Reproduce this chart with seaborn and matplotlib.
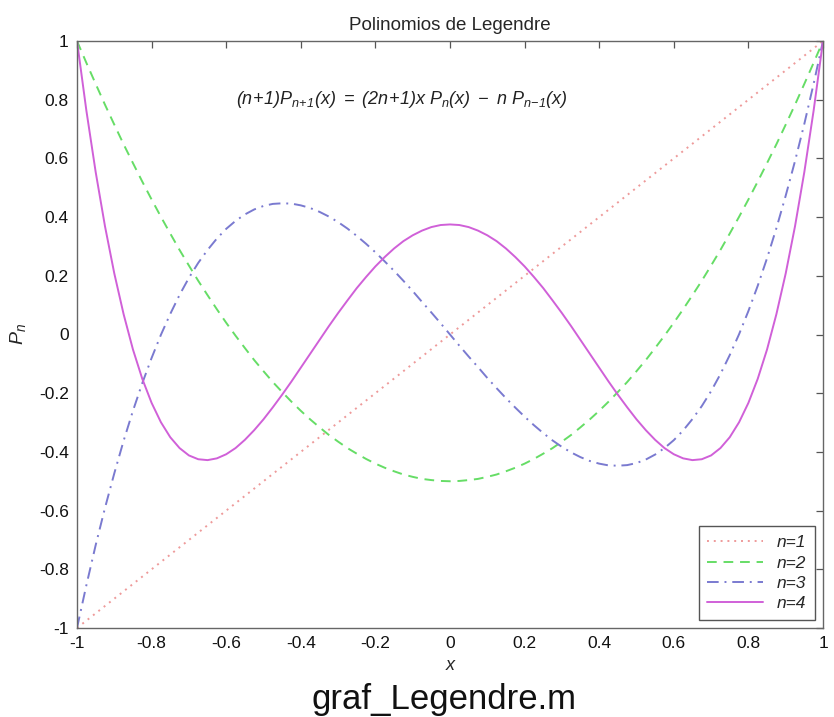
import matplotlib
matplotlib.use("Agg")
import matplotlib.pyplot as plt
import seaborn as sns
import pandas as pd

# ---- data ----
x_vals = [-1.0, -0.975, -0.95, -0.925, -0.9, -0.875, -0.85, -0.825, -0.8, -0.775,
          -0.75, -0.725, -0.7, -0.675, -0.65, -0.625, -0.6, -0.575, -0.55, -0.525,
          -0.5, -0.475, -0.45, -0.425, -0.4, -0.375, -0.35, -0.325, -0.3, -0.275,
          -0.25, -0.225, -0.2, -0.175, -0.15, -0.125, -0.1, -0.075, -0.05, -0.025,
          0.0, 0.025, 0.05, 0.075, 0.1, 0.125, 0.15, 0.175, 0.2, 0.225,
          0.25, 0.275, 0.3, 0.325, 0.35, 0.375, 0.4, 0.425, 0.45, 0.475,
          0.5, 0.525, 0.55, 0.575, 0.6, 0.625, 0.65, 0.675, 0.7, 0.725,
          0.75, 0.775, 0.8, 0.825, 0.85, 0.875, 0.9, 0.925, 0.95, 0.975, 1.0]
p1 = [-1.0, -0.975, -0.95, -0.925, -0.9, -0.875, -0.85, -0.825, -0.8, -0.775,
      -0.75, -0.725, -0.7, -0.675, -0.65, -0.625, -0.6, -0.575, -0.55, -0.525,
      -0.5, -0.475, -0.45, -0.425, -0.4, -0.375, -0.35, -0.325, -0.3, -0.275,
      -0.25, -0.225, -0.2, -0.175, -0.15, -0.125, -0.1, -0.075, -0.05, -0.025,
      0.0, 0.025, 0.05, 0.075, 0.1, 0.125, 0.15, 0.175, 0.2, 0.225,
      0.25, 0.275, 0.3, 0.325, 0.35, 0.375, 0.4, 0.425, 0.45, 0.475,
      0.5, 0.525, 0.55, 0.575, 0.6, 0.625, 0.65, 0.675, 0.7, 0.725,
      0.75, 0.775, 0.8, 0.825, 0.85, 0.875, 0.9, 0.925, 0.95, 0.975, 1.0]
p2 = [1.0, 0.926, 0.854, 0.783, 0.715, 0.648, 0.584, 0.521, 0.46, 0.401,
      0.344, 0.288, 0.235, 0.183, 0.134, 0.086, 0.04, -0.004, -0.046, -0.087,
      -0.125, -0.162, -0.196, -0.229, -0.26, -0.289, -0.316, -0.342, -0.365, -0.387,
      -0.406, -0.424, -0.44, -0.454, -0.466, -0.477, -0.485, -0.492, -0.496, -0.499,
      -0.5, -0.499, -0.496, -0.492, -0.485, -0.477, -0.466, -0.454, -0.44, -0.424,
      -0.406, -0.387, -0.365, -0.342, -0.316, -0.289, -0.26, -0.229, -0.196, -0.162,
      -0.125, -0.087, -0.046, -0.004, 0.04, 0.086, 0.134, 0.183, 0.235, 0.288,
      0.344, 0.401, 0.46, 0.521, 0.584, 0.648, 0.715, 0.783, 0.854, 0.926, 1.0]
p3 = [-1.0, -0.855, -0.718, -0.591, -0.473, -0.362, -0.26, -0.166, -0.08, -0.001,
      0.07, 0.135, 0.193, 0.244, 0.288, 0.327, 0.36, 0.387, 0.409, 0.426,
      0.438, 0.445, 0.447, 0.446, 0.44, 0.431, 0.418, 0.402, 0.383, 0.361,
      0.336, 0.309, 0.28, 0.249, 0.217, 0.183, 0.148, 0.111, 0.075, 0.038,
      0.0, -0.038, -0.075, -0.111, -0.148, -0.183, -0.217, -0.249, -0.28, -0.309,
      -0.336, -0.361, -0.383, -0.402, -0.418, -0.431, -0.44, -0.446, -0.447, -0.445,
      -0.438, -0.426, -0.409, -0.387, -0.36, -0.327, -0.288, -0.244, -0.193, -0.135,
      -0.07, 0.001, 0.08, 0.166, 0.26, 0.362, 0.473, 0.591, 0.718, 0.855, 1.0]
p4 = [1.0, 0.764, 0.554, 0.369, 0.208, 0.069, -0.051, -0.151, -0.233, -0.299,
      -0.35, -0.387, -0.412, -0.425, -0.428, -0.422, -0.408, -0.387, -0.359, -0.326,
      -0.289, -0.248, -0.205, -0.16, -0.113, -0.066, -0.019, 0.028, 0.073, 0.116,
      0.158, 0.196, 0.232, 0.264, 0.293, 0.318, 0.338, 0.354, 0.366, 0.373,
      0.375, 0.373, 0.366, 0.354, 0.338, 0.318, 0.293, 0.264, 0.232, 0.196,
      0.158, 0.116, 0.073, 0.028, -0.019, -0.066, -0.113, -0.16, -0.205, -0.248,
      -0.289, -0.326, -0.359, -0.387, -0.408, -0.422, -0.428, -0.425, -0.412, -0.387,
      -0.35, -0.299, -0.233, -0.151, -0.051, 0.069, 0.208, 0.369, 0.554, 0.764, 1.0]
series_names = ["n=1", "n=2", "n=3", "n=4"]
xticks = [-1, -0.8, -0.6, -0.4, -0.2, 0, 0.2, 0.4, 0.6, 0.8, 1]
yticks = [-1, -0.8, -0.6, -0.4, -0.2, 0, 0.2, 0.4, 0.6, 0.8, 1]

frames = []
for name, vals in zip(series_names, [p1, p2, p3, p4]):
    frames.append(pd.DataFrame({"x": x_vals, "y": vals, "serie": name}))
df = pd.concat(frames, ignore_index=True)

sns.set_theme(style="white")
plt.rcParams["font.family"] = ["Liberation Sans", "DejaVu Sans"]
plt.rcParams["mathtext.fontset"] = "custom"
plt.rcParams["mathtext.rm"] = "Liberation Sans:italic"
plt.rcParams["mathtext.it"] = "Liberation Sans:italic"
plt.rcParams["mathtext.sf"] = "Liberation Sans:italic"

colors = {"n=1": "#ee9a9a", "n=2": "#66dd66", "n=3": "#7a7ad0", "n=4": "#d060d8"}
dashes = {"n=1": (1, 2.5), "n=2": (5, 3.5), "n=3": (6, 3, 1, 3), "n=4": ""}

fig = plt.figure(figsize=(8.34, 7.17), dpi=100)
ax = fig.add_axes([77 / 834, 89 / 717, 746 / 834, 587 / 717])

sns.lineplot(data=df, x="x", y="y", hue="serie", style="serie",
             palette=colors, dashes=dashes, linewidth=1.4,
             errorbar=None, legend=False, ax=ax)

ax.set_xlim(-1, 1)
ax.set_ylim(-1, 1)
ax.set_xticks(xticks)
ax.set_yticks(yticks)
ax.set_xticklabels([f"{t:g}" for t in xticks])
ax.set_yticklabels([f"{t:g}" for t in yticks])
ax.tick_params(direction="in", length=5, width=0.9, color="#555555",
               top=True, right=True, labelsize=12.5, labelcolor="#111111", pad=6)
for sp in ax.spines.values():
    sp.set_visible(True)
    sp.set_color("#666666")
    sp.set_linewidth(1.0)

ax.set_xlabel("x", fontsize=13, fontstyle="italic", labelpad=4)
ax.set_ylabel(r"$P_n$", fontsize=14, labelpad=8)
ax.set_title("Polinomios de Legendre", fontsize=13.5, pad=8)

ax.text(-0.13, 0.80,
        r"$(n\!+\!1)P_{n\!+\!1}(x)\ =\ (2n\!+\!1)x\ P_n(x)\ -\ n\ P_{n\!-\!1}(x)$",
        ha="center", va="center", fontsize=13, color="#222222")

handles = ax.get_lines()[:4]
leg = ax.legend(handles, series_names, loc="lower right",
                bbox_to_anchor=(0.989, 0.0136), borderaxespad=0,
                fancybox=False, framealpha=1, edgecolor="#555555",
                prop={"style": "italic", "size": 12.5}, handlelength=3.2,
                labelspacing=0.3, borderpad=0.5)
leg.get_frame().set_linewidth(1.0)

fig.text(444 / 834, 1 - 700 / 717, "graf_Legendre.m", ha="center", va="center",
         fontsize=25, color="#111111")

fig.savefig("out.png", dpi=100)
